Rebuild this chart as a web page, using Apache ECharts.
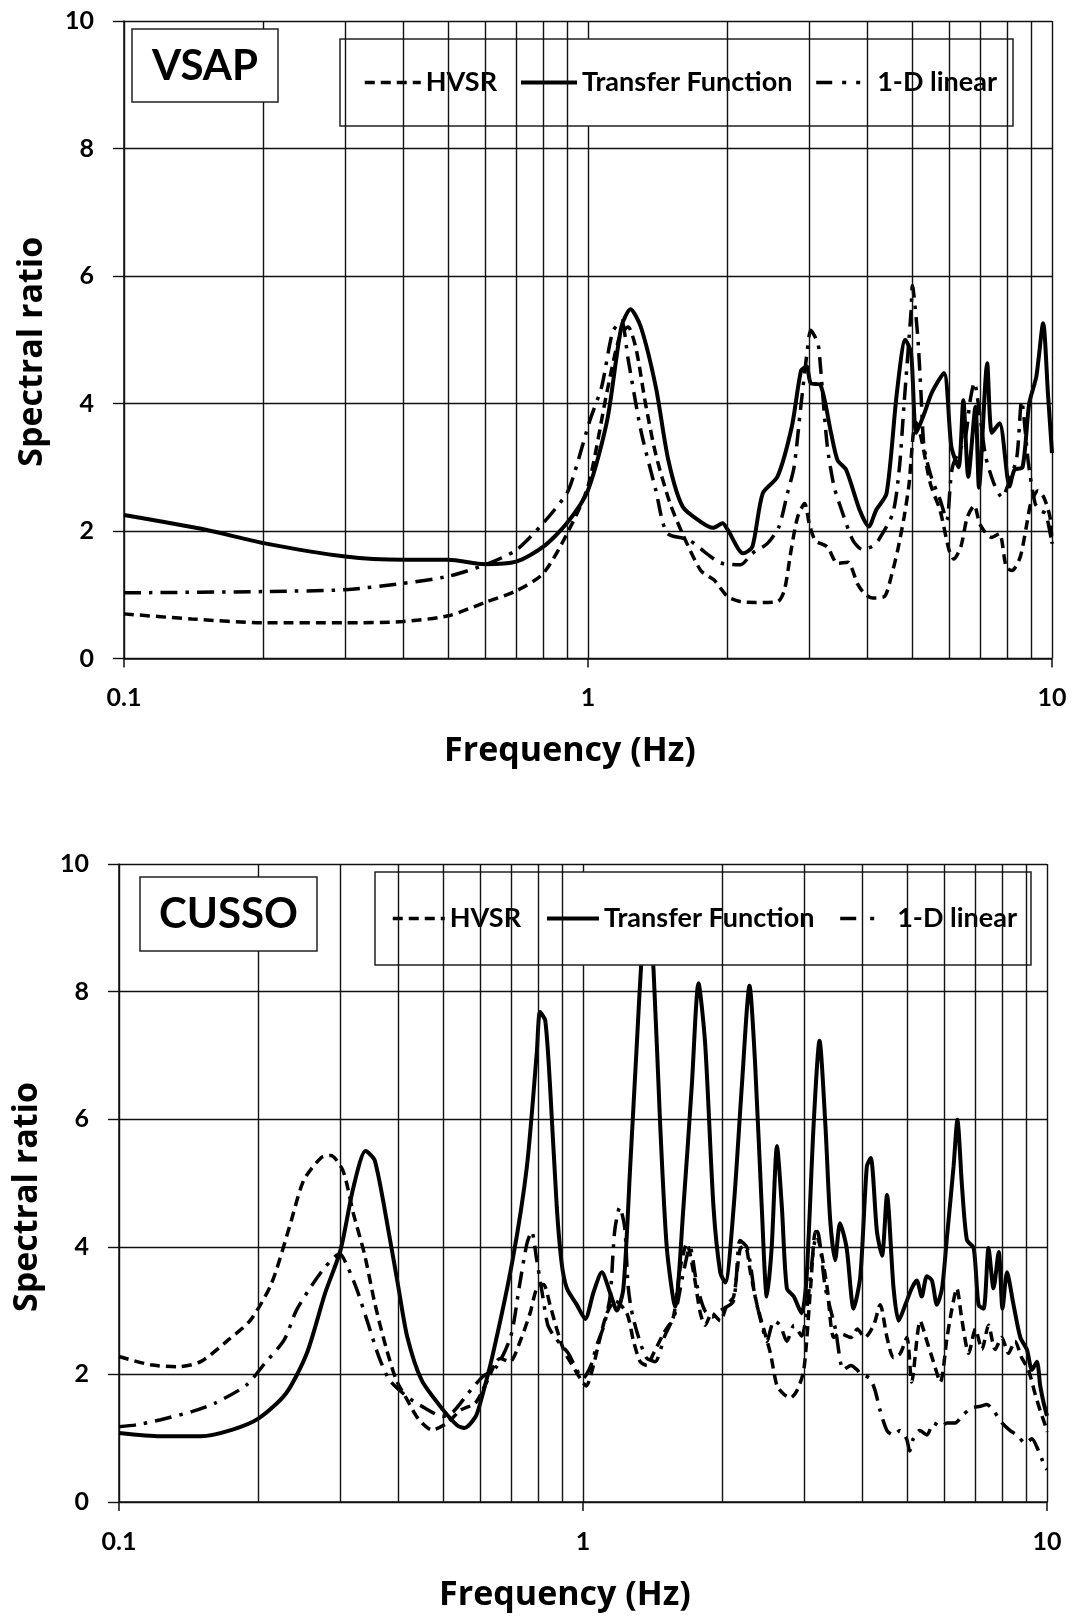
<!DOCTYPE html>
<html>
<head>
<meta charset="utf-8">
<script src="https://cdn.jsdelivr.net/npm/echarts@6/dist/echarts.min.js"></script>
<style>
html, body { margin: 0; padding: 0; background: #fff; }
#chart { width: 1073px; height: 1619px; }
</style>
</head>
<body>
<div id="chart"></div>
<script>
// ---- VSAP (top panel) ----
const vsapHvsrFreq = [0.1, 0.14, 0.2, 0.3, 0.4, 0.5, 0.6, 0.7, 0.8, 0.9, 1.0, 1.1, 1.17, 1.22, 1.27, 1.33, 1.4, 1.5, 1.6, 1.75, 1.87, 2.0, 2.14, 2.3, 2.56, 2.65, 2.74, 2.83, 2.93, 3.0, 3.09, 3.28, 3.45, 3.63, 3.81, 3.94, 4.1, 4.35, 4.5, 4.65, 4.8, 4.92, 5.02, 5.1, 5.22, 5.47, 5.74, 6.0, 6.14, 6.36, 6.57, 6.8, 7.0, 7.4, 7.7, 7.97, 8.2, 8.54, 8.8, 9.0, 9.33, 9.6, 9.9, 10];
const vsapHvsr = [0.70, 0.62, 0.56, 0.56, 0.58, 0.67, 0.88, 1.06, 1.33, 1.95, 2.7, 4.2, 5.05, 5.2, 4.85, 4.0, 3.2, 2.45, 1.95, 1.38, 1.23, 0.97, 0.89, 0.88, 0.89, 1.07, 1.70, 2.22, 2.43, 2.11, 1.85, 1.75, 1.49, 1.51, 1.17, 1.02, 0.95, 0.97, 1.28, 1.70, 2.22, 2.74, 3.5, 3.7, 3.47, 2.74, 2.32, 1.70, 1.56, 1.75, 2.22, 2.4, 2.1, 1.9, 1.96, 1.43, 1.38, 1.59, 2.06, 2.43, 2.63, 2.53, 2.22, 1.8];

const vsapTfFreq = [0.1, 0.15, 0.2, 0.3, 0.4, 0.5, 0.6, 0.7, 0.8, 0.9, 1.0, 1.1, 1.18, 1.235, 1.3, 1.4, 1.49, 1.6, 1.77, 1.86, 1.95, 2.0, 2.16, 2.26, 2.38, 2.56, 2.75, 2.88, 2.96, 3.02, 3.17, 3.34, 3.45, 3.6, 3.85, 4.03, 4.18, 4.4, 4.63, 4.83, 4.97, 5.1, 5.31, 5.5, 5.85, 6.07, 6.29, 6.44, 6.6, 6.84, 6.96, 7.25, 7.42, 7.71, 8.1, 8.3, 8.64, 8.93, 9.25, 9.57, 9.8, 10];
const vsapTf = [2.25, 2.02, 1.81, 1.60, 1.55, 1.55, 1.48, 1.52, 1.75, 2.12, 2.64, 3.74, 5.2, 5.48, 5.2, 4.26, 3.11, 2.38, 2.12, 2.05, 2.12, 2.02, 1.65, 1.75, 2.59, 2.85, 3.64, 4.52, 4.58, 4.32, 4.29, 3.54, 3.11, 2.96, 2.33, 2.07, 2.33, 2.59, 4.16, 5.0, 4.79, 3.54, 3.85, 4.16, 4.48, 3.32, 3.0, 4.05, 2.85, 3.95, 2.68, 4.63, 3.54, 3.69, 2.70, 2.96, 3.0, 4.0, 4.42, 5.26, 4.16, 3.22];

const vsapLinearFreq = [0.1, 0.2, 0.3, 0.4, 0.5, 0.6, 0.7, 0.8, 0.9, 0.934, 1.01, 1.07, 1.13, 1.18, 1.22, 1.3, 1.4, 1.48, 1.65, 1.8, 1.93, 2.13, 2.26, 2.44, 2.58, 2.69, 2.78, 2.87, 2.97, 3.02, 3.13, 3.17, 3.28, 3.39, 3.5, 3.72, 3.9, 4.1, 4.23, 4.54, 4.69, 4.8, 4.97, 5.0, 5.13, 5.22, 5.3, 5.49, 5.74, 5.93, 6.1, 6.5, 6.66, 6.8, 7.0, 7.2, 7.5, 7.8, 8.1, 8.4, 8.6, 8.9, 9.2, 9.45, 9.7, 10];
const vsapLinear = [1.03, 1.05, 1.08, 1.18, 1.29, 1.47, 1.70, 2.12, 2.59, 2.9, 3.74, 4.26, 5.12, 5.3, 4.7, 3.58, 2.64, 1.97, 1.86, 1.65, 1.5, 1.47, 1.65, 1.81, 2.07, 2.59, 3.0, 3.9, 4.84, 5.15, 4.94, 4.57, 3.32, 2.70, 2.38, 1.86, 1.71, 1.76, 1.86, 2.28, 3.0, 4.0, 5.46, 5.85, 5.1, 4.16, 3.32, 2.85, 2.49, 2.17, 3.0, 3.47, 4.04, 4.33, 3.78, 3.16, 2.74, 2.53, 2.79, 3.16, 4.04, 3.05, 2.43, 2.32, 2.27, 1.8];

// ---- CUSSO (bottom panel) ----
const cussoHvsrFreq = [0.1, 0.117, 0.134, 0.15, 0.172, 0.192, 0.213, 0.233, 0.25, 0.273, 0.286, 0.304, 0.32, 0.338, 0.356, 0.376, 0.396, 0.418, 0.441, 0.473, 0.508, 0.545, 0.586, 0.617, 0.663, 0.696, 0.732, 0.769, 0.795, 0.822, 0.849, 0.878, 0.908, 0.938, 0.986, 1.016, 1.053, 1.089, 1.126, 1.173, 1.243, 1.285, 1.328, 1.373, 1.419, 1.491, 1.566, 1.619, 1.674, 1.731, 1.79, 1.834, 1.896, 1.976, 2.043, 2.112, 2.183, 2.238, 2.295, 2.372, 2.452, 2.535, 2.619, 2.709, 2.8, 2.894, 2.992, 3.093, 3.17, 3.25, 3.36, 3.47, 3.58, 3.78, 3.9, 4.05, 4.23, 4.37, 4.52, 4.67, 4.83, 4.99, 5.11, 5.33, 5.51, 5.69, 5.89, 6.09, 6.24, 6.39, 6.56, 6.78, 7.01, 7.24, 7.48, 7.73, 7.99, 8.26, 8.53, 8.82, 9.12, 9.43, 9.67, 9.92, 10];
const cussoHvsr = [2.28, 2.15, 2.12, 2.2, 2.54, 2.85, 3.42, 4.31, 5.04, 5.4, 5.43, 5.19, 4.52, 3.89, 3.11, 2.43, 1.91, 1.6, 1.31, 1.13, 1.23, 1.44, 1.55, 1.85, 2.25, 2.2, 2.52, 2.96, 3.35, 3.41, 3.09, 2.71, 2.39, 2.2, 1.94, 1.82, 2.14, 2.58, 2.96, 3.15, 2.96, 2.52, 2.2, 2.14, 2.33, 2.64, 2.9, 3.66, 4.05, 3.6, 2.96, 2.77, 2.96, 2.84, 3.09, 3.22, 3.98, 4.0, 3.6, 3.09, 2.71, 2.33, 1.82, 1.69, 1.63, 1.75, 2.07, 3.35, 4.24, 3.98, 3.35, 2.58, 2.64, 2.58, 2.71, 2.58, 2.77, 3.09, 2.58, 2.26, 2.33, 2.58, 1.88, 2.84, 2.52, 2.2, 1.88, 2.58, 3.03, 3.35, 2.84, 2.33, 2.71, 2.39, 2.77, 2.39, 2.58, 2.33, 2.52, 2.26, 2.07, 1.69, 1.43, 1.2, 1.1];

const cussoTfFreq = [0.1, 0.123, 0.15, 0.175, 0.2, 0.229, 0.254, 0.278, 0.3, 0.32, 0.34, 0.356, 0.383, 0.4, 0.418, 0.449, 0.5, 0.536, 0.555, 0.586, 0.6, 0.64, 0.705, 0.757, 0.795, 0.808, 0.829, 0.849, 0.878, 0.9, 0.923, 0.97, 1.011, 1.053, 1.098, 1.144, 1.183, 1.222, 1.264, 1.306, 1.339, 1.37, 1.395, 1.419, 1.467, 1.516, 1.58, 1.646, 1.716, 1.774, 1.834, 1.911, 1.976, 2.026, 2.112, 2.2, 2.285, 2.35, 2.428, 2.49, 2.55, 2.619, 2.683, 2.75, 2.846, 2.958, 3.03, 3.14, 3.234, 3.33, 3.409, 3.495, 3.58, 3.7, 3.83, 3.96, 4.09, 4.17, 4.3, 4.41, 4.52, 4.67, 4.79, 4.95, 5.11, 5.24, 5.37, 5.51, 5.65, 5.79, 5.94, 6.09, 6.29, 6.41, 6.56, 6.72, 6.95, 7.12, 7.3, 7.48, 7.67, 7.87, 8.02, 8.2, 8.47, 8.76, 9.05, 9.28, 9.51, 9.67, 9.83, 10];
const cussoTf = [1.08, 1.03, 1.03, 1.13, 1.31, 1.70, 2.33, 3.27, 3.94, 4.93, 5.5, 5.35, 4.15, 3.37, 2.59, 1.91, 1.44, 1.2, 1.16, 1.33, 1.54, 2.33, 3.79, 5.26, 7.04, 7.68, 7.55, 6.53, 4.62, 3.73, 3.35, 3.09, 2.87, 3.28, 3.6, 3.28, 3.0, 3.35, 5.26, 7.17, 8.6, 9.4, 8.9, 8.35, 5.9, 3.98, 3.06, 4.62, 6.53, 8.13, 7.17, 4.62, 3.6, 3.44, 4.62, 6.53, 8.09, 6.85, 4.62, 3.22, 3.98, 5.58, 4.62, 3.35, 3.22, 2.96, 3.47, 5.9, 7.23, 5.9, 4.43, 3.79, 4.37, 3.98, 3.03, 3.54, 5.26, 5.39, 4.24, 3.86, 4.81, 3.35, 2.84, 3.09, 3.35, 3.47, 3.22, 3.54, 3.47, 3.09, 3.35, 4.17, 5.26, 5.99, 4.94, 4.11, 3.98, 3.09, 3.03, 3.98, 3.35, 3.92, 3.03, 3.6, 3.09, 2.58, 2.39, 2.07, 2.2, 1.82, 1.56, 1.35];

const cussoLinearFreq = [0.1, 0.109, 0.123, 0.144, 0.161, 0.188, 0.206, 0.227, 0.241, 0.259, 0.278, 0.299, 0.312, 0.326, 0.344, 0.363, 0.383, 0.418, 0.457, 0.499, 0.526, 0.565, 0.607, 0.651, 0.699, 0.73, 0.757, 0.775, 0.795, 0.819, 0.84, 0.87, 0.9, 0.93, 0.97, 1.0, 1.04, 1.07, 1.11, 1.144, 1.17, 1.2, 1.23, 1.25, 1.27, 1.31, 1.37, 1.43, 1.5, 1.58, 1.64, 1.7, 1.76, 1.83, 1.9, 1.98, 2.11, 2.18, 2.26, 2.35, 2.43, 2.49, 2.58, 2.66, 2.75, 2.85, 2.96, 3.03, 3.14, 3.2, 3.33, 3.5, 3.64, 3.78, 3.9, 3.96, 4.15, 4.26, 4.37, 4.52, 4.67, 4.82, 4.98, 5.06, 5.15, 5.32, 5.51, 5.7, 5.9, 6.09, 6.34, 6.6, 6.88, 7.18, 7.42, 7.67, 8.0, 8.33, 8.62, 8.98, 9.28, 9.51, 9.75, 9.9, 10];
const cussoLinear = [1.18, 1.21, 1.29, 1.42, 1.55, 1.83, 2.17, 2.54, 3.0, 3.37, 3.68, 3.89, 3.66, 3.32, 2.8, 2.28, 1.91, 1.65, 1.47, 1.34, 1.42, 1.7, 1.96, 2.12, 2.6, 3.4, 4.05, 4.24, 3.79, 3.22, 2.77, 2.58, 2.45, 2.33, 2.07, 1.94, 2.14, 2.45, 2.77, 3.22, 4.24, 4.62, 4.3, 3.41, 3.03, 2.64, 2.26, 2.2, 2.6, 2.96, 3.54, 4.0, 3.4, 3.0, 2.9, 3.0, 3.15, 4.1, 3.98, 3.22, 2.77, 2.52, 2.84, 2.77, 2.52, 2.77, 2.6, 2.96, 3.98, 4.24, 3.35, 2.71, 2.07, 2.14, 2.07, 2.01, 1.94, 1.75, 1.43, 1.12, 1.05, 1.12, 0.99, 0.8, 0.99, 1.12, 1.05, 1.24, 1.18, 1.24, 1.24, 1.37, 1.47, 1.5, 1.53, 1.43, 1.24, 1.12, 1.05, 0.92, 0.99, 0.86, 0.67, 0.54, 0.51];

// minor log grid lines
const minorFreqs = [0.2, 0.3, 0.4, 0.5, 0.6, 0.7, 0.8, 0.9, 2, 3, 4, 5, 6, 7, 8, 9];

const pairs = (fs, vs) => fs.map((f, i) => [f, vs[i]]);

const gridCol = '#111';
const labelFont = { fontFamily: 'Lato', fontWeight: 'bold', fontSize: 25, color: '#000' };
const nameFont = { fontFamily: 'Open Sans', fontWeight: 'bold', fontSize: 34, color: '#000' };
const legendFont = { fontFamily: 'Lato', fontWeight: 'bold', fontSize: 27, color: '#000' };

const xAxisCfg = gi => ({
    type: 'log',
    logBase: 10,
    min: 0.1,
    max: 10,
    gridIndex: gi,
    name: 'Frequency (Hz)',
    nameLocation: 'middle',
    nameGap: 76,
    nameTextStyle: { ...nameFont, padding: [0, 36, 0, 0] },
    axisLine: { lineStyle: { color: gridCol, width: 1.5 } },
    axisTick: { show: true, length: 9, lineStyle: { color: gridCol, width: 1.5 } },
    axisLabel: { ...labelFont, margin: 27, formatter: v => String(+(+v).toPrecision(3)) },
    splitLine: { show: true, lineStyle: { color: gridCol, width: 1.4 } },
})

const yAxisCfg = (gi, shift) => ({
    type: 'value',
    min: 0,
    max: 10,
    interval: 2,
    gridIndex: gi,
    name: 'Spectral ratio',
    nameLocation: 'middle',
    nameGap: 75,
    nameTextStyle: { ...nameFont, padding: [0, shift, 0, 0] },
    axisLine: { show: true, lineStyle: { color: gridCol, width: 1.5 } },
    axisTick: { show: true, length: 11, lineStyle: { color: gridCol, width: 1.4 } },
    axisLabel: { ...labelFont, margin: 30 },
    splitLine: { show: true, lineStyle: { color: gridCol, width: 1.4 } },
})

const lineSeries = (name, gi, data, style) => ({
    name,
    type: 'line',
    xAxisIndex: gi,
    yAxisIndex: gi,
    data,
    symbol: 'none',
    smooth: 0.25,
    lineStyle: { color: '#000', ...style },
    itemStyle: { color: '#000' },
    emphasis: { disabled: true },
    silent: true,
    z: 3,
})

const gridLineSeries = gi => ({
    type: 'line',
    xAxisIndex: gi,
    yAxisIndex: gi,
    data: [],
    silent: true,
    z: 1,
    markLine: {
        silent: true,
        symbol: ['none', 'none'],
        label: { show: false },
        lineStyle: { color: gridCol, width: 1.4, type: 'solid' },
        emphasis: { disabled: true },
        data: minorFreqs.map(v => ({ xAxis: v })),
    },
})

const hvsrStyle = { width: 3.5, type: [10, 6] };
const tfStyle = { width: 4, type: 'solid' };
const linearStyle = { width: 3.5, type: [17, 8, 3.5, 8] };

const legendCfg = (left, top, pad, itemWidth, itemGap, linearDash) => ({
    left,
    top,
    width: 720,
    orient: 'horizontal',
    data: [
        { name: 'HVSR' },
        { name: 'Transfer Function' },
        { name: '1-D linear', lineStyle: { type: linearDash } },
    ],
    itemWidth,
    itemHeight: 14,
    itemGap,
    padding: pad,
    backgroundColor: '#fff',
    borderColor: '#222',
    borderWidth: 1.5,
    borderRadius: 0,
    textStyle: legendFont,
    itemStyle: { opacity: 0 },
    lineStyle: { width: 'inherit' },
    selectedMode: false,
})

const titleCfg = (text, left, top, pad) => ({
    text,
    left,
    top,
    padding: pad,
    backgroundColor: '#fff',
    borderColor: '#222',
    borderWidth: 1.5,
    textStyle: { fontFamily: 'Lato', fontWeight: 'bold', fontSize: 42, color: '#000', lineHeight: 44 },
})

const chart = echarts.init(document.getElementById('chart'), null, { renderer: 'canvas' });
chart.setOption({
    animation: false,
    backgroundColor: '#fff',
    title: [
        titleCfg('VSAP', 132, 29, [15, 20, 14, 20]),
        titleCfg('CUSSO', 140, 877, [15, 19, 15, 19]),
    ],
    legend: [
        legendCfg(340, 39, [30, 16, 30, 23], 56, 22, [16, 10, 4, 10, 4, 40]),
        legendCfg(375, 872, [33, 14, 33, 16], 52, 24, [16, 14, 4, 40]),
    ],
    grid: [
        { left: 124, top: 21, width: 928, height: 637.5 },
        { left: 119, top: 864, width: 928, height: 638 },
    ],
    xAxis: [xAxisCfg(0), xAxisCfg(1)],
    yAxis: [yAxisCfg(0, 24), yAxisCfg(1, 28)],
    series: [
        gridLineSeries(0),
        gridLineSeries(1),
        lineSeries('HVSR', 0, pairs(vsapHvsrFreq, vsapHvsr), hvsrStyle),
        lineSeries('Transfer Function', 0, pairs(vsapTfFreq, vsapTf), tfStyle),
        lineSeries('1-D linear', 0, pairs(vsapLinearFreq, vsapLinear), linearStyle),
        lineSeries('HVSR', 1, pairs(cussoHvsrFreq, cussoHvsr), hvsrStyle),
        lineSeries('Transfer Function', 1, pairs(cussoTfFreq, cussoTf), tfStyle),
        lineSeries('1-D linear', 1, pairs(cussoLinearFreq, cussoLinear), linearStyle),
    ],
});
</script>
</body>
</html>
